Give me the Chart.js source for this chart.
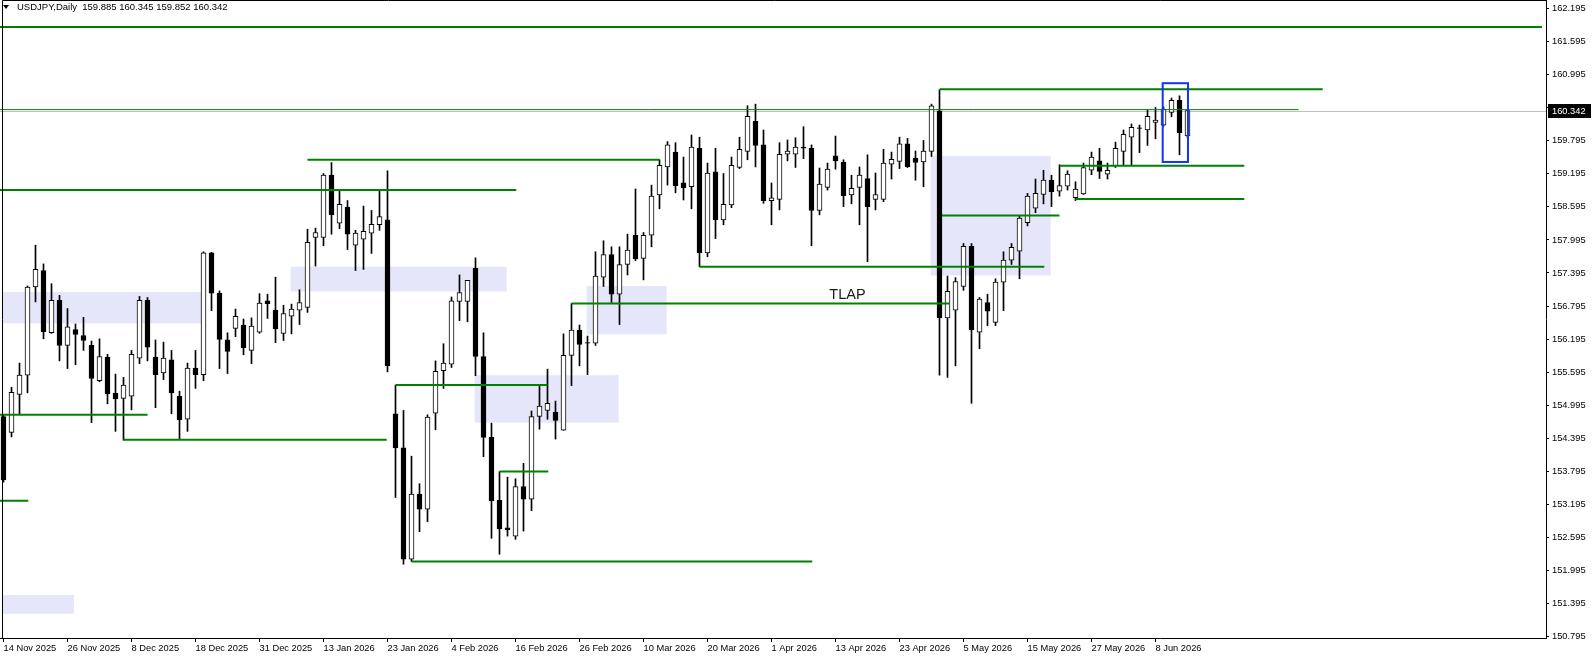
<!DOCTYPE html>
<html>
<head>
<title>USDJPY Daily</title>
<script src="https://cdn.jsdelivr.net/npm/chart.js"></script>
<style>
    html, body { margin: 0; padding: 0; background: #ffffff; }
    #wrap { width: 1592px; height: 659px; }
</style>
</head>
<body>
<div id="wrap"><canvas id="chart" width="1592" height="659"></canvas></div>
<script>
// daily bars, 14 Nov 2025 .. 12 Jun 2026
const opens = [154.79,154.50,155.19,155.54,157.14,157.44,156.31,156.90,156.08,156.37,156.26,156.08,155.44,155.87,155.21,155.12,155.16,155.85,156.90,155.87,
155.58,155.82,155.16,154.74,155.67,155.55,157.76,157.03,156.18,156.39,156.45,155.99,156.32,156.89,156.72,156.30,156.61,156.72,156.77,158.04,
158.04,159.17,158.30,158.59,157.90,158.01,158.12,158.27,158.36,154.84,154.22,152.20,153.38,153.11,154.85,155.62,155.74,156.88,156.88,157.48,
155.88,154.41,153.27,152.77,152.62,153.52,153.29,154.79,154.90,154.87,154.54,155.90,156.36,156.13,156.12,157.32,157.73,157.01,157.55,158.08,
157.66,158.08,158.81,159.32,159.59,159.03,158.96,159.66,157.76,159.23,158.36,158.63,159.31,159.60,160.15,159.72,158.71,158.73,159.55,159.55,
159.68,159.66,158.53,158.95,159.52,159.41,158.81,158.95,159.11,158.73,158.73,159.37,159.42,159.74,159.48,159.41,159.60,160.34,156.58,156.72,
157.15,157.88,156.32,156.86,156.50,157.23,157.63,157.79,158.31,158.57,158.82,159.08,158.88,158.97,158.76,158.83,159.26,159.43,159.19,159.34,
159.60,159.86,160.03,159.99,160.13,160.08,160.31,160.53,159.885];
const highs = [154.82,155.32,155.76,157.16,157.90,157.56,157.20,156.99,156.75,156.47,156.59,156.16,156.20,155.92,155.56,155.50,155.99,156.97,156.95,156.18,
156.14,155.99,155.25,155.76,155.99,157.78,157.77,157.07,156.31,156.74,156.56,156.58,157.02,157.01,157.32,156.81,156.83,157.09,158.19,158.21,
159.20,159.40,158.89,158.71,158.17,158.61,158.53,158.90,159.25,155.36,154.90,154.07,153.57,154.82,155.80,156.11,156.96,157.36,157.26,157.67,
156.31,154.67,153.79,153.69,153.66,153.94,154.89,155.36,155.65,155.07,156.29,156.84,156.45,156.25,157.78,157.98,157.87,157.87,158.10,158.92,
158.13,158.99,159.45,159.78,159.76,159.50,159.90,159.86,159.39,159.66,159.20,159.50,159.86,160.43,160.46,159.99,159.03,159.76,159.81,159.85,
160.05,159.72,159.30,159.39,159.88,159.45,159.17,159.32,159.54,159.21,159.64,159.59,159.86,159.84,159.61,159.80,160.46,160.72,157.34,157.31,
157.93,157.93,156.95,157.01,157.29,157.78,157.93,158.43,158.84,159.10,159.26,159.17,159.36,159.25,159.05,159.39,159.59,159.66,159.39,159.77,
159.99,160.10,160.08,160.35,160.40,160.41,160.57,160.61,160.345];
const lows = [153.60,154.42,154.83,155.22,156.87,156.20,156.30,155.80,155.66,155.73,155.99,154.68,155.42,155.02,154.52,154.36,154.91,155.75,155.80,154.95,
155.46,154.84,154.38,154.52,155.30,155.44,156.71,155.66,155.57,156.24,155.91,155.75,156.30,156.57,156.13,156.17,156.29,156.46,156.68,157.52,
157.89,158.10,158.20,157.82,157.44,157.46,157.75,158.17,155.60,153.32,152.11,152.16,152.70,152.88,154.55,155.30,155.68,156.53,156.51,155.53,
154.06,152.58,152.29,152.62,152.56,152.71,153.08,154.56,154.74,154.38,154.54,155.35,155.71,155.55,156.08,157.15,156.86,156.46,157.36,157.62,
157.27,157.87,158.56,158.99,158.85,158.72,158.56,157.51,157.69,158.02,158.27,158.58,159.29,159.45,159.32,158.66,158.27,158.54,159.43,159.31,
159.47,157.89,158.45,158.90,159.28,158.60,158.65,158.27,157.60,158.54,158.69,159.10,159.29,159.31,159.08,158.96,159.51,155.54,155.50,155.71,
157.08,155.03,156.02,156.44,156.44,156.71,157.55,157.29,158.25,158.49,158.65,158.60,158.79,158.90,158.71,158.82,159.18,159.11,159.10,159.31,
159.35,159.36,159.58,159.71,159.83,160.06,160.23,159.54,159.852];
const closes = [153.64,155.23,155.54,157.14,157.46,156.33,156.90,156.08,156.42,156.28,156.17,155.48,155.88,155.20,155.11,155.36,155.92,156.90,156.05,155.55,
155.85,155.22,154.73,155.67,155.55,157.76,157.03,156.19,155.97,156.61,156.04,156.43,156.85,156.84,156.38,156.66,156.74,156.86,157.95,158.13,
159.17,158.45,158.64,158.10,158.12,158.15,158.28,158.42,155.71,154.22,152.20,153.38,153.11,154.78,155.61,155.76,156.89,157.04,157.26,155.88,
154.41,153.26,152.75,152.73,153.52,153.29,154.79,154.98,155.03,154.72,155.90,156.36,156.10,156.12,157.34,157.73,157.01,157.55,157.81,157.65,
158.08,158.79,159.35,159.72,158.98,158.94,159.68,157.76,159.21,158.36,158.64,159.35,159.64,160.24,159.71,158.71,158.76,159.55,159.61,159.68,
159.66,158.53,159.01,159.28,159.43,158.80,158.93,159.17,158.60,158.82,159.39,159.46,159.74,159.32,159.40,159.61,160.43,156.58,157.06,157.24,
157.88,156.36,156.92,156.70,157.23,157.63,157.86,158.39,158.79,158.84,159.08,158.87,158.98,159.19,158.92,159.31,159.50,159.24,159.26,159.66,
159.91,160.04,160.02,160.24,160.17,160.37,160.53,159.94,160.342];

// time axis labels, one every 8 bars
const dateLabels = ['14 Nov 2025','26 Nov 2025','8 Dec 2025','18 Dec 2025','31 Dec 2025','13 Jan 2026','23 Jan 2026','4 Feb 2026',
    '16 Feb 2026','26 Feb 2026','10 Mar 2026','20 Mar 2026','1 Apr 2026','13 Apr 2026','23 Apr 2026','5 May 2026','15 May 2026',
    '27 May 2026','8 Jun 2026'];
const priceTicks = [162.195,161.595,160.995,160.395,159.795,159.195,158.595,157.995,157.395,156.795,156.195,155.595,154.995,
    154.395,153.795,153.195,152.595,151.995,151.395,150.795];

// horizontal levels: start bar, end bar, price
const levelFrom  = [-1, -1, 117, 38, -1, 49, -1, 15, -1, 62, 51, 71, 87, 117.3, 132, 134];
const levelTo    = [192.3, 161.9, 164.9, 82, 64.1, 68, 18, 47.9, 3.1, 68.1, 101.1, 118.2, 130.1, 132, 155.1, 155.1];
const levelPrice = [161.86, 160.36, 160.73, 159.45, 158.90, 155.36, 154.82, 154.37, 153.26, 153.79, 152.16, 156.84, 157.51, 158.44, 159.34, 158.74];

// shaded zones: start bar, end bar, top, bottom
const zoneFrom   = [-0.1, 35.9, 58.9, 72.9, 115.9, -0.06];
const zoneTo     = [25.2, 62.9, 76.9, 82.9, 130.9, 8.8];
const zoneTop    = [157.05, 157.51, 155.54, 157.16, 159.52, 151.55];
const zoneBottom = [156.48, 157.06, 154.68, 156.28, 157.35, 151.21];

// blue marker box
const markBox = { from: 144.9, to: 148.06, top: 160.84, bottom: 159.41 };
const tlapText = { bar: 105.5, price: 156.99, text: 'TLAP' };
const lastPrice = closes[closes.length - 1];

const FONT = 'Liberation Sans, Arial, sans-serif';

const bodyData = opens.map((o, i) => ({ x: i, y: [o, closes[i]] }));
const wickData = opens.map((o, i) => ({ x: i, y: [lows[i], highs[i]] }));
const bodyFill = opens.map((o, i) => closes[i] >= o ? '#ffffff' : '#000000');

const datasets = [];
levelPrice.forEach((p, k) => {
    datasets.push({
        type: 'line',
        data: [{ x: levelFrom[k], y: p }, { x: levelTo[k], y: p }],
        borderColor: '#008000',
        borderWidth: k === 1 ? 1 : 2,
        pointRadius: 0,
        order: 0
    });
});
datasets.push({
    type: 'bar',
    data: bodyData,
    backgroundColor: bodyFill,
    borderColor: '#000000',
    borderWidth: 1,
    borderSkipped: false,
    barThickness: 5,
    grouped: false,
    order: 1
});
datasets.push({
    type: 'bar',
    data: wickData,
    backgroundColor: '#000000',
    barThickness: 1,
    grouped: false,
    order: 2
});

const decor = {
    id: 'decor',
    beforeDatasetsDraw(chart) {
        const { ctx, chartArea: a, scales: { x, y } } = chart;
        ctx.save();
        ctx.beginPath();
        ctx.rect(a.left, a.top, a.right - a.left, a.bottom - a.top);
        ctx.clip();
        ctx.fillStyle = '#e6e6fa';
        zoneFrom.forEach((f, k) => {
            const x0 = x.getPixelForValue(f), x1 = x.getPixelForValue(zoneTo[k]);
            const y0 = y.getPixelForValue(zoneTop[k]), y1 = y.getPixelForValue(zoneBottom[k]);
            ctx.fillRect(x0, y0, x1 - x0, y1 - y0);
        });
        // current price line
        const py = Math.round(y.getPixelForValue(lastPrice)) + 0.5;
        ctx.strokeStyle = '#c0c0c0';
        ctx.lineWidth = 1;
        ctx.beginPath();
        ctx.moveTo(a.left, py);
        ctx.lineTo(a.right, py);
        ctx.stroke();
        ctx.restore();
    },
    afterDatasetsDraw(chart) {
        const { ctx, chartArea: a, scales: { x, y } } = chart;
        ctx.save();
        ctx.strokeStyle = '#1432ff';
        ctx.lineWidth = 2;
        const bx0 = x.getPixelForValue(markBox.from), bx1 = x.getPixelForValue(markBox.to);
        const by0 = y.getPixelForValue(markBox.top), by1 = y.getPixelForValue(markBox.bottom);
        ctx.strokeRect(bx0, by0, bx1 - bx0, by1 - by0);

        ctx.fillStyle = '#1a1a1a';
        ctx.font = '14.5px ' + FONT;
        ctx.textAlign = 'center';
        ctx.textBaseline = 'middle';
        ctx.fillText(tlapText.text, x.getPixelForValue(tlapText.bar), y.getPixelForValue(tlapText.price));

        // frame, left and top
        ctx.strokeStyle = '#000000';
        ctx.lineWidth = 1;
        ctx.beginPath();
        ctx.moveTo(2.5, a.bottom);
        ctx.lineTo(2.5, 0.5);
        ctx.lineTo(a.right, 0.5);
        ctx.stroke();
        ctx.restore();
    },
    afterDraw(chart) {
        const { ctx, chartArea: a, scales: { y } } = chart;
        ctx.save();
        const py = Math.round(y.getPixelForValue(lastPrice));
        ctx.fillStyle = '#000000';
        ctx.fillRect(a.right + 2, py - 7, 43, 14);
        ctx.fillStyle = '#ffffff';
        ctx.font = '9.3px ' + FONT;
        ctx.textBaseline = 'middle';
        ctx.textAlign = 'left';
        ctx.fillText(lastPrice.toFixed(3), a.right + 6, py + 0.5);

        // caption
        ctx.fillStyle = '#000000';
        ctx.beginPath();
        ctx.moveTo(3, 5);
        ctx.lineTo(9, 5);
        ctx.lineTo(6, 9);
        ctx.closePath();
        ctx.fill();
        ctx.font = '9.5px ' + FONT;
        ctx.fillText('USDJPY,Daily  ' + opens[opens.length - 1].toFixed(3) + ' ' + highs[highs.length - 1].toFixed(3) + ' ' +
            lows[lows.length - 1].toFixed(3) + ' ' + lastPrice.toFixed(3), 17, 7);
        ctx.restore();
    }
};

new Chart(document.getElementById('chart'), {
    type: 'bar',
    data: { datasets },
    options: {
        responsive: false,
        animation: false,
        devicePixelRatio: 1,
        layout: { padding: 0 },
        plugins: { legend: { display: false }, tooltip: { enabled: false } },
        scales: {
            x: {
                type: 'linear',
                offset: false,
                min: -0.4375,
                max: -0.4375 + 1546 / 8,
                afterBuildTicks: s => { s.ticks = dateLabels.map((d, k) => ({ value: k * 8 })); },
                afterFit: s => { s.height = 21; s.paddingLeft = 0; s.paddingRight = 0; },
                ticks: {
                    autoSkip: false,
                    maxRotation: 0,
                    align: 'start',
                    padding: 1,
                    color: '#000000',
                    font: { family: FONT, size: 9.3 },
                    callback: v => dateLabels[Math.round(v / 8)]
                },
                grid: { offset: false, drawOnChartArea: false, drawTicks: true, tickLength: 4, color: '#000000' },
                border: { display: true, color: '#000000' }
            },
            y: {
                type: 'linear',
                position: 'right',
                min: 150.77,
                max: 162.35,
                afterBuildTicks: s => { s.ticks = priceTicks.map(v => ({ value: v })); },
                afterFit: s => { s.width = 46; s.paddingTop = 0; s.paddingBottom = 0; },
                ticks: {
                    padding: 3,
                    color: '#000000',
                    font: { family: FONT, size: 9.3 },
                    callback: v => v.toFixed(3)
                },
                grid: { drawOnChartArea: false, drawTicks: true, tickLength: 3, color: '#000000' },
                border: { display: true, color: '#000000' }
            }
        }
    },
    plugins: [decor]
});
</script>
</body>
</html>
